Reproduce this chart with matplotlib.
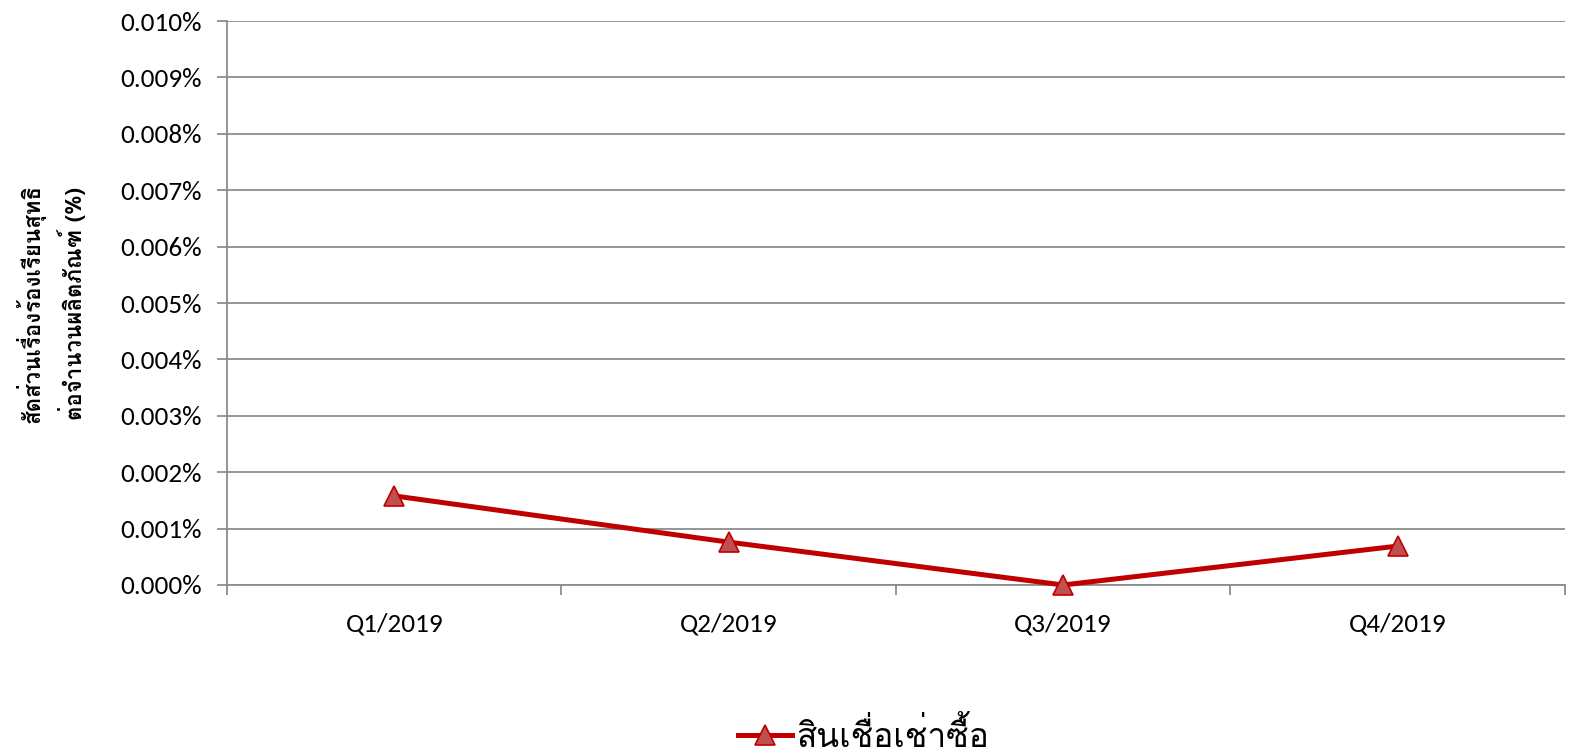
import matplotlib
matplotlib.use('Agg')
import matplotlib.pyplot as plt
from matplotlib.ticker import FuncFormatter, MultipleLocator
import warnings
warnings.filterwarnings('ignore')

# data (values in %)
quarters = ['Q1/2019', 'Q2/2019', 'Q3/2019', 'Q4/2019']
ratio    = [0.00158, 0.00076, 0.0, 0.00069]
series_name = 'สินเชื่อเช่าซื้อ'
ylabel = 'สัดส่วนเรื่องร้องเรียนสุทธิ\nต่อจำนวนผลิตภัณฑ์ (%)'

LINE  = '#C00000'
FILL  = '#C0504D'
GRID  = '#8C8C8C'
TICKF = ['Carlito', 'Lato', 'DejaVu Sans']
THAI  = ['Loma', 'DejaVu Sans']

fig = plt.figure(figsize=(15.79, 7.56), dpi=100)
ax = fig.add_axes([0.1438, 0.2262, 0.8472, 0.746])

x = range(len(quarters))
ax.plot(x, ratio, color=LINE, lw=3.6, marker='^', ms=14,
        mfc=FILL, mec=LINE, mew=1.2, label=series_name, zorder=3,
        clip_on=False)

ax.set_xlim(-0.5, len(quarters) - 0.5)
ax.set_ylim(0, 0.010)
ax.yaxis.set_major_locator(MultipleLocator(0.001))
ax.yaxis.set_major_formatter(FuncFormatter(lambda v, p: f'{v:.3f}%'))
ax.grid(axis='y', color=GRID, lw=1.3)
ax.set_axisbelow(True)

ax.set_xticks(list(x))
ax.set_xticklabels(quarters)
ax.set_xticks([i - 0.5 for i in range(len(quarters) + 1)], minor=True)
ax.tick_params(axis='x', which='major', length=0, pad=20)
ax.tick_params(axis='x', which='minor', length=7, width=1.3, color=GRID)
ax.tick_params(axis='y', length=7, width=1.3, color=GRID, pad=11)
for lab in ax.get_xticklabels() + ax.get_yticklabels():
    lab.set_family(TICKF)
    lab.set_fontsize(19.5)

for side in ['top', 'right']:
    ax.spines[side].set_visible(False)
for side in ['left', 'bottom']:
    ax.spines[side].set_color(GRID)
    ax.spines[side].set_linewidth(1.3)

fig.text(0.032, 0.598, ylabel, rotation=90, ha='center', va='center',
         family=THAI, fontweight='bold', fontsize=16, linespacing=1.45)

leg = fig.legend(loc='center', bbox_to_anchor=(0.547, 0.027), frameon=False,
                 prop={'family': THAI, 'size': 24}, handlelength=1.6,
                 handletextpad=0.15)

fig.savefig('out.png', dpi=100)
